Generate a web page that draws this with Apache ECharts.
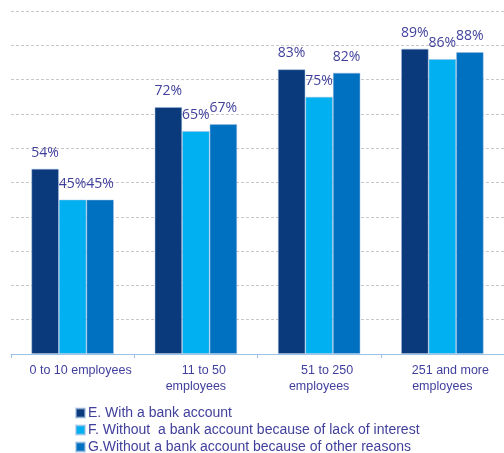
<!DOCTYPE html>
<html>
<head>
<meta charset="utf-8">
<script src="https://cdn.jsdelivr.net/npm/echarts@6/dist/echarts.min.js"></script>
<style>
  html, body { margin: 0; padding: 0; background: #fff; }
  #chart { width: 504px; height: 453px; }
</style>
</head>
<body>
<div id="chart"></div>
<script>
// Company size groups (first line, second line of each axis label)
const categories = ['0 to 10 employees', '11 to 50\nemployees', '51 to 250\nemployees', '251 and more\nemployees'];

// Share of companies (%) for each group
const withAccount = [54, 72, 83, 89];
const noInterest = [45, 65, 75, 86];
const otherReasons = [45, 67, 82, 88];

const seriesNames = [
  'E. With a bank account',
  'F. Without  a bank account because of lack of interest',
  'G.Without a bank account because of other reasons'
];
const seriesColors = ['#0a3a7c', '#00b0f0', '#0070c0'];

const textColor = '#403f9c';

function barSeries(name, data, color) {
  return {
    name: name,
    type: 'bar',
    data: data,
    barWidth: 27.5,
    barGap: '0%',
    itemStyle: { color: color, borderColor: 'rgba(160,190,225,0.6)', borderWidth: 0.8 },
    label: {
      show: true,
      position: 'top',
      distance: 9,
      formatter: '{c}%',
      color: textColor,
      fontFamily: 'Open Sans',
      fontSize: 14
    }
  };
}

const chart = echarts.init(document.getElementById('chart'), null, { renderer: 'canvas' });
chart.setOption({
  animation: false,
  grid: { left: 11, top: 11, width: 498, bottom: 99, containLabel: false },
  legend: {
    orient: 'vertical',
    left: 75,
    top: 406,
    width: 420,
    height: 60,
    padding: 0,
    itemWidth: 9,
    itemHeight: 9,
    itemGap: 3,
    icon: 'rect',
    textStyle: { color: textColor, fontFamily: 'Liberation Sans', fontSize: 14, padding: [0, 0, 0, -2] },
    data: seriesNames
  },
  xAxis: {
    type: 'category',
    data: categories,
    axisLine: { lineStyle: { color: '#9cc3e6', width: 1 } },
    axisTick: { show: true, length: 4, lineStyle: { color: '#9cc3e6' } },
    axisLabel: {
      margin: 9,
      interval: 0,
      color: textColor,
      fontFamily: 'Liberation Sans',
      fontSize: 12,
      lineHeight: 15.5,
      formatter: function (v) {
        const parts = v.split('\n');
        return parts.map(function (p, i) { return (i === 0 ? '{a|' : '{b|') + p + '}'; }).join('\n');
      },
      rich: {
        a: { padding: [0, 0, 0, 16], color: textColor, fontFamily: 'Liberation Sans', fontSize: 12.5, lineHeight: 15.5 },
        b: { color: textColor, fontFamily: 'Liberation Sans', fontSize: 12.5, lineHeight: 15.5 }
      }
    }
  },
  yAxis: {
    type: 'value',
    min: 0,
    max: 100,
    interval: 10,
    axisLabel: { show: false },
    axisLine: { show: false },
    axisTick: { show: false },
    splitLine: { lineStyle: { color: '#c8c8c8', type: [3, 2], width: 1 } }
  },
  series: [
    barSeries(seriesNames[0], withAccount, seriesColors[0]),
    barSeries(seriesNames[1], noInterest, seriesColors[1]),
    barSeries(seriesNames[2], otherReasons, seriesColors[2])
  ]
});
</script>
</body>
</html>
